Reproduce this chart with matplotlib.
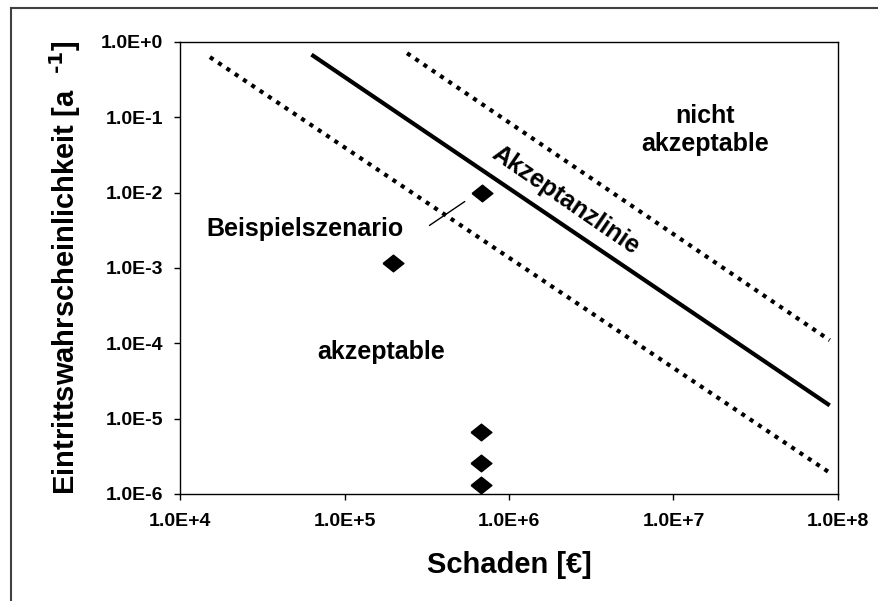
import matplotlib
matplotlib.use('Agg')
import matplotlib.pyplot as plt
from matplotlib.lines import Line2D

plt.rcParams['font.family'] = ['Liberation Sans', 'DejaVu Sans']
plt.rcParams['font.weight'] = 'bold'
plt.rcParams['mathtext.default'] = 'bf'

# damage [EUR] / frequency [1/a] of the example scenarios
scenario_x = [1.97e5, 6.9e5, 6.8e5, 6.8e5, 6.8e5]
scenario_y = [1.16e-3, 1.0e-2, 6.6e-6, 2.6e-6, 1.3e-6]

# acceptance line and the two bands around it (end points)
accept_x = [6.3e4, 8.9e7]
accept_y = [0.68, 1.5e-5]
lower_x = [1.52e4, 8.8e7]
lower_y = [0.63, 1.95e-6]
upper_x = [2.4e5, 8.9e7]
upper_y = [0.71, 1.1e-4]

x_ticks = [1e4, 1e5, 1e6, 1e7, 1e8]
x_labels = ['1.0E+4', '1.0E+5', '1.0E+6', '1.0E+7', '1.0E+8']
y_ticks = [1e-6, 1e-5, 1e-4, 1e-3, 1e-2, 1e-1, 1e0]
y_labels = ['1.0E-6', '1.0E-5', '1.0E-4', '1.0E-3', '1.0E-2', '1.0E-1', '1.0E+0']

fig = plt.figure(figsize=(8.79, 6.01), dpi=100)
ax = fig.add_axes([180 / 879, 1 - 494 / 601, (838 - 180) / 879, (494 - 42) / 601])

# outer chart frame (only top and left edges visible)
fig.add_artist(Line2D([11 / 879, 1.0], [1 - 8 / 601, 1 - 8 / 601], color='#404040', lw=1.5,
                      transform=fig.transFigure))
fig.add_artist(Line2D([11 / 879, 11 / 879], [0.0, 1 - 8 / 601], color='#404040', lw=1.5,
                      transform=fig.transFigure))

ax.set_xscale('log')
ax.set_yscale('log')
ax.set_xlim(1e4, 1e8)
ax.set_ylim(1e-6, 1e0)

dots = (0, (1, 1.4))
ax.plot(lower_x, lower_y, color='black', lw=3, linestyle=dots)
ax.plot(upper_x, upper_y, color='black', lw=3, linestyle=dots)
ax.plot(accept_x, accept_y, color='black', lw=3, solid_capstyle='butt')

diamond = [(-1, 0), (0, 0.8), (1, 0), (0, -0.8), (-1, 0)]
ax.plot(scenario_x, scenario_y, linestyle='none', marker=diamond, markersize=15,
        color='black', clip_on=False)

ax.annotate('', xy=(5.56e5, 8.0e-3), xytext=(3.18e5, 3.5e-3),
            arrowprops=dict(arrowstyle='-', color='black', lw=1))
ax.text(5.75e4, 3.3e-3, 'Beispielszenario', fontsize=18, fontweight='bold',
        ha='center', va='center')
ax.text(2.2e6, 8.0e-3, 'Akzeptanzlinie', fontsize=18, fontweight='bold',
        ha='center', va='center', rotation=-34.5)
ax.text(1.55e7, 0.068, 'nicht\nakzeptable', fontsize=18, fontweight='bold',
        ha='center', va='center', linespacing=1.25)
ax.text(1.67e5, 7.6e-5, 'akzeptable', fontsize=18, fontweight='bold',
        ha='center', va='center')

ax.set_xticks(x_ticks)
ax.set_xticklabels(x_labels)
ax.set_yticks(y_ticks)
ax.set_yticklabels(y_labels)
ax.minorticks_off()
ax.tick_params(axis='both', direction='out', length=4, width=1, labelsize=14)
ax.tick_params(axis='x', pad=10)
ax.tick_params(axis='y', pad=8)
for s in ax.spines.values():
    s.set_linewidth(1)

ax.set_xlabel('Schaden [€]', fontsize=21, fontweight='bold', labelpad=15)
ax.set_ylabel('Eintrittswahrscheinlichkeit [a  $^{\\text{-1}}$]', fontsize=21,
              fontweight='bold', labelpad=13)

fig.savefig('out.png', dpi=100)
